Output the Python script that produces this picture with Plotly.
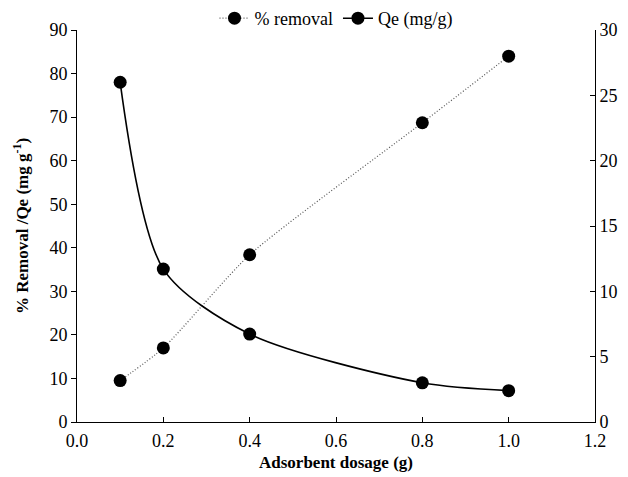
import plotly.graph_objects as go

dosage = [0.1, 0.2, 0.4, 0.8, 1.0]
removal = [9.5, 17.0, 38.4, 68.7, 84.0]
qe = [26.0, 11.7, 6.73, 3.0, 2.4]

FONT = "Liberation Serif, Times New Roman, serif"

fig = go.Figure()
fig.add_trace(go.Scatter(
    x=dosage, y=removal, name="% removal", mode="lines+markers",
    line=dict(color="#555555", width=1.2, dash="1px,2px", shape="spline", smoothing=0.6),
    marker=dict(color="black", size=13),
))
fig.add_trace(go.Scatter(
    x=dosage, y=qe, name="Qe (mg/g)", mode="lines+markers", yaxis="y2",
    line=dict(color="black", width=1.6, shape="spline", smoothing=0.8),
    marker=dict(color="black", size=13),
))

fig.update_layout(
    width=628, height=477,
    margin=dict(l=77, r=33, t=30, b=55, autoexpand=False),
    paper_bgcolor="white", plot_bgcolor="white",
    font=dict(family=FONT, size=18, color="black"),
    showlegend=True,
    legend=dict(orientation="h", x=0.5, xanchor="center", yref="container", y=1.0, yanchor="top",
                font=dict(family=FONT, size=18), bgcolor="rgba(0,0,0,0)",
                tracegroupgap=0),
    xaxis=dict(range=[0, 1.2], dtick=0.2, tickformat=".1f", showgrid=False, zeroline=False,
               showline=True, linecolor="black", linewidth=1, ticks="inside", ticklen=5,
               tickcolor="black", tickfont=dict(family=FONT, size=18), ticklabelstandoff=2,
               title=dict(text="<b>Adsorbent dosage (g)</b>", font=dict(family=FONT, size=17), standoff=6)),
    yaxis=dict(range=[0, 90], dtick=10, showgrid=False, zeroline=False,
               showline=True, linecolor="black", linewidth=1, ticks="outside", ticklen=5,
               tickcolor="black", tickfont=dict(family=FONT, size=18),
               title=dict(text="<b>% Removal /Qe (mg g<sup>-1</sup>)</b>", font=dict(family=FONT, size=17), standoff=16)),
    yaxis2=dict(range=[0, 30], dtick=5, overlaying="y", side="right", showgrid=False,
                zeroline=False, showline=True, linecolor="black", linewidth=1,
                ticks="inside", ticklen=5, tickcolor="black", tickfont=dict(family=FONT, size=18)),
)

fig.write_html("out.html")
